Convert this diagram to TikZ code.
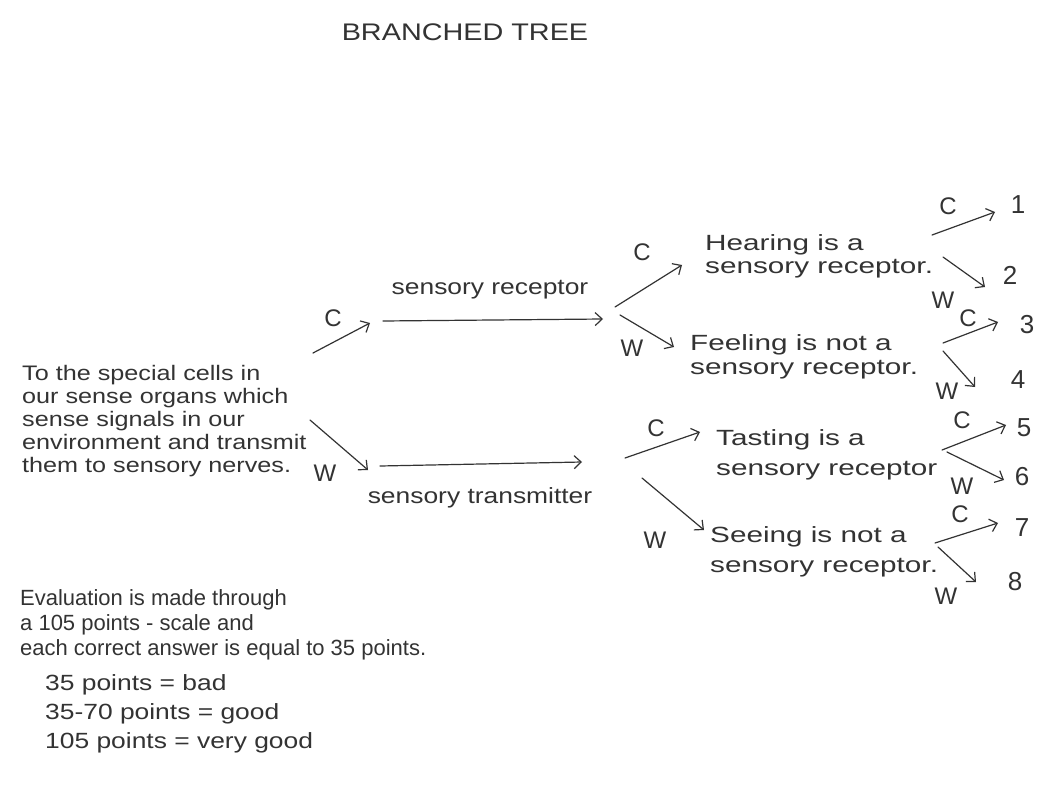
\documentclass[tikz,border=0pt]{standalone}
\usepackage{fontspec}
\setmainfont{Liberation Sans}
\newfontfamily\handW[FakeStretch=1.2]{Liberation Sans}
\newfontfamily\handX[FakeStretch=1.35]{Liberation Sans}
\usetikzlibrary{arrows.meta}
\definecolor{pencil}{HTML}{333333}
\tikzset{
  txt/.style={text=pencil, inner sep=0pt, align=left, anchor=base west},
  lab/.style={font=\fontsize{24}{26}\selectfont, text=pencil, inner sep=0pt},
  num/.style={font=\fontsize{26}{28}\selectfont, text=pencil, inner sep=0pt},
  arr/.style={draw=pencil, line width=1.2pt, line cap=round, -{Straight Barb[length=7pt,width=13pt,line width=1.2pt]}}
}
\begin{document}
\begin{tikzpicture}[x=1pt,y=-1pt]
\useasboundingbox[fill=white] (0,0) rectangle (1038,805);
% title
\node[lab, font=\handW\fontsize{24}{26}\selectfont] (title) at (465,32) {BRANCHED TREE};
% root text (anchor = baseline of the last line)
\node[txt, font=\handW\fontsize{21}{23}\selectfont] (root) at (22,472) {To the special cells in\\our sense organs which\\sense signals in our\\environment and transmit\\them to sensory nerves.};
% level 1 arrows
\coordinate (rcS) at (313,353); \coordinate (rcE) at (370,323);
\coordinate (rwS) at (310,420); \coordinate (rwE) at (368,470);
\draw[arr] (rcS) -- (rcE);
\draw[arr] (rwS) -- (rwE);
\node[lab] (lc0) at (333,318) {C};
\node[lab] (lw0) at (325,473) {W};
% horizontal arrows
\coordinate (h1S) at (383,321); \coordinate (h1E) at (603,319);
\coordinate (h2S) at (380,466); \coordinate (h2E) at (582,462);
\draw[arr] (h1S) -- (h1E);
\draw[arr] (h2S) -- (h2E);
\node[lab, font=\handW\fontsize{22}{24}\selectfont] (rec) at (490,290) {sensory receptor};
\node[lab, font=\handW\fontsize{22}{24}\selectfont] (tra) at (480,498) {sensory transmitter};
% level 2 split arrows
\coordinate (t1S) at (615,307); \coordinate (t1E) at (682,265);
\coordinate (t2S) at (620,315); \coordinate (t2E) at (674,347);
\coordinate (b1S) at (625,458); \coordinate (b1E) at (700,432);
\coordinate (b2S) at (642,478); \coordinate (b2E) at (704,530);
\draw[arr] (t1S) -- (t1E);
\draw[arr] (t2S) -- (t2E);
\draw[arr] (b1S) -- (b1E);
\draw[arr] (b2S) -- (b2E);
\node[lab] (lc1) at (642,252) {C};
\node[lab] (lw1) at (632,348) {W};
\node[lab] (lc2) at (656,428) {C};
\node[lab] (lw2) at (655,540) {W};
% statements (anchor = baseline of the last line)
\node[txt, font=\handX\fontsize{22}{23}\selectfont] (hear) at (705,273) {Hearing is a\\sensory receptor.};
\node[txt, font=\handX\fontsize{22}{24}\selectfont] (feel) at (690,374) {Feeling is not a\\sensory receptor.};
\node[txt, font=\handX\fontsize{22}{30}\selectfont] (taste) at (716,475) {Tasting is a\\sensory receptor};
\node[txt, font=\handX\fontsize{22}{30}\selectfont] (see) at (710,572) {Seeing is not a\\sensory receptor.};
% leaf arrows
\coordinate (a1S) at (932,235); \coordinate (a1E) at (995,212);
\coordinate (a2S) at (943,257); \coordinate (a2E) at (985,287);
\coordinate (a3S) at (943,343); \coordinate (a3E) at (998,322);
\coordinate (a4S) at (943,351); \coordinate (a4E) at (975,387);
\coordinate (a5S) at (942,450); \coordinate (a5E) at (1006,425);
\coordinate (a6S) at (947,452); \coordinate (a6E) at (1004,480);
\coordinate (a7S) at (935,543); \coordinate (a7E) at (998,523);
\coordinate (a8S) at (938,547); \coordinate (a8E) at (976,582);
\foreach \i in {1,...,8} { \draw[arr] (a\i S) -- (a\i E); }
\node[lab] (lc3) at (948,206) {C};
\node[lab] (lw3) at (943,300) {W};
\node[lab] (lc4) at (968,318) {C};
\node[lab] (lw4) at (947,391) {W};
\node[lab] (lc5) at (962,420) {C};
\node[lab] (lw5) at (962,486) {W};
\node[lab] (lc6) at (960,514) {C};
\node[lab] (lw6) at (946,596) {W};
\node[num] (n1) at (1018,205) {1};
\node[num] (n2) at (1010,275) {2};
\node[num] (n3) at (1027,325) {3};
\node[num] (n4) at (1018,380) {4};
\node[num] (n5) at (1024,428) {5};
\node[num] (n6) at (1022,477) {6};
\node[num] (n7) at (1022,528) {7};
\node[num] (n8) at (1015,582) {8};
% evaluation (anchor = baseline of the last line)
\node[txt, font=\fontsize{22}{25}\selectfont] (eval) at (20,655) {Evaluation is made through\\a 105 points - scale and\\each correct answer is equal to 35 points.};
\node[txt, font=\handW\fontsize{22}{29}\selectfont] (scale) at (45,748) {35 points = bad\\35-70 points = good\\105 points = very good};
\end{tikzpicture}
\end{document}
